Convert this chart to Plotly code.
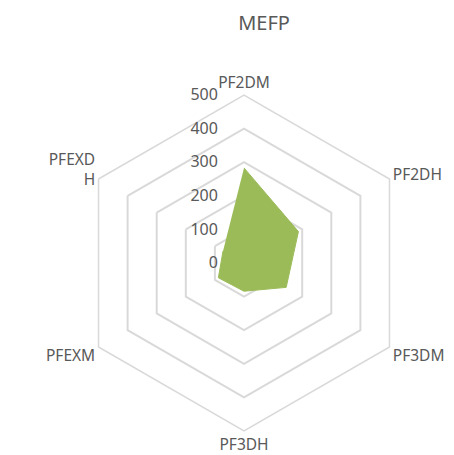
import plotly.graph_objects as go

categories = ["PF2DM", "PF2DH", "PF3DM", "PF3DH", "PFEXM", "PFEXDH"]
category_labels = ["PF2DM", "PF2DH", "PF3DM", "PF3DH", "PFEXM", "PFEXD<br>H"]
values = [283, 187, 145, 84, 88, 72]
radial_ticks = [0, 100, 200, 300, 400, 500]

W, H = 454, 455
cx, cy, R = 236, 255, 168

fig = go.Figure()
fig.add_trace(go.Scatterpolar(
    r=values,
    theta=categories,
    mode="lines",
    fill="toself",
    fillcolor="#9bbb59",
    line=dict(color="#9bbb59", width=1),
    hoverinfo="skip",
    showlegend=False,
))

fig.update_layout(
    width=W, height=H,
    margin=dict(l=0, r=0, t=0, b=0),
    paper_bgcolor="white",
    plot_bgcolor="white",
    font=dict(family="Noto Sans, DejaVu Sans, sans-serif", color="#595959", size=14),
    title=dict(text="MEFP", x=256 / W, xanchor="center", y=1 - 15 / H, yanchor="middle",
               font=dict(size=20, color="#595959")),
    polar=dict(
        domain=dict(x=[(cx - R) / W, (cx + R) / W], y=[(H - cy - R) / H, (H - cy + R) / H]),
        bgcolor="white",
        gridshape="linear",
        radialaxis=dict(
            range=[0, 500],
            tickvals=radial_ticks,
            ticktext=[str(v) for v in radial_ticks],
            angle=90,
            side="counterclockwise",
            tickangle=90,
            showline=False,
            ticks="outside",
            ticklen=20,
            tickcolor="rgba(0,0,0,0)",
            gridcolor="#d9d9d9",
            gridwidth=1.5,
            tickfont=dict(size=16, color="#595959"),
        ),
        angularaxis=dict(
            direction="clockwise",
            rotation=90,
            tickvals=categories,
            ticktext=category_labels,
            showgrid=False,
            showline=True,
            linecolor="#d9d9d9",
            linewidth=1.5,
            ticks="",
            tickfont=dict(size=15.5, color="#595959"),
        ),
    ),
)

fig.write_html("out.html")
